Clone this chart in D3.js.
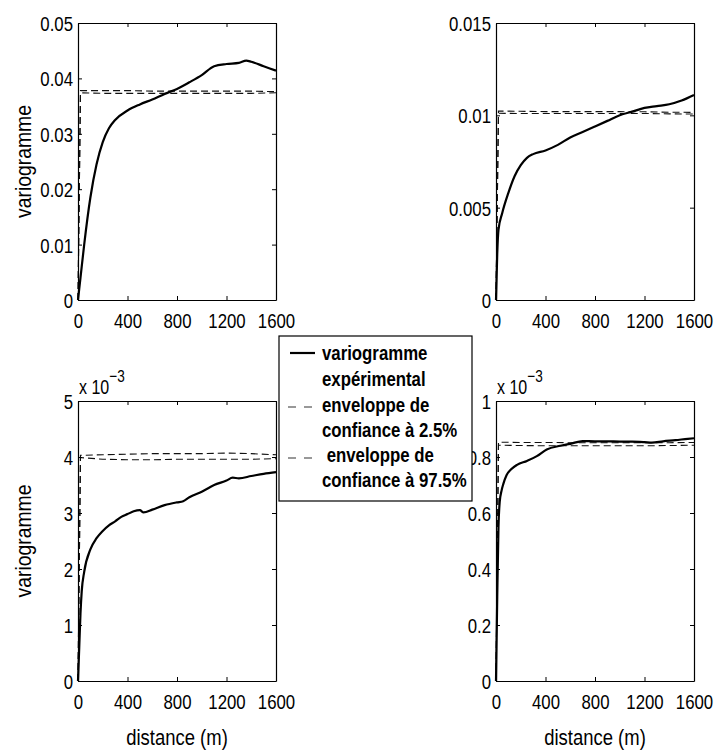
<!DOCTYPE html>
<html><head><meta charset="utf-8">
<script src="https://cdn.jsdelivr.net/npm/d3@7"></script>
<style>
body{margin:0;background:#fff}
svg{display:block}
text{font-family:"Liberation Sans",Arial,Helvetica,sans-serif;fill:#000}
</style>
</head><body>
<svg id="c" width="718" height="751"></svg>
<script>
// ---------- data ----------
const xTicks = [0, 400, 800, 1200, 1600];
const yTicks1 = [0, 0.01, 0.02, 0.03, 0.04, 0.05];
const yTicks2 = [0, 0.005, 0.01, 0.015];
const yTicks3 = [0, 1, 2, 3, 4, 5];          // x 10^-3
const yTicks4 = [0, 0.2, 0.4, 0.6, 0.8, 1];  // x 10^-3

// panel 1 (top-left)
const dist1  = [0, 20, 50, 100, 150, 200, 250, 300, 400, 500, 600, 700, 800, 900, 1000, 1100, 1200, 1300, 1360, 1400, 1500, 1600];
const vario1 = [0, 0.004, 0.0100, 0.0185, 0.0245, 0.0285, 0.0310, 0.0325, 0.0342, 0.0353, 0.0362, 0.0372, 0.0381, 0.0393, 0.0406, 0.0422, 0.0426, 0.0428, 0.0432, 0.0430, 0.0422, 0.0414];
// panel 2 (top-right)
const dist2  = [0, 10, 20, 50, 100, 150, 200, 250, 300, 400, 500, 600, 700, 800, 900, 1000, 1100, 1200, 1300, 1400, 1500, 1600];
const vario2 = [0, 0.0025, 0.0038, 0.0047, 0.0058, 0.0067, 0.0073, 0.0077, 0.0079, 0.0081, 0.0084, 0.0088, 0.0091, 0.0094, 0.0097, 0.0100, 0.0102, 0.0104, 0.0105, 0.0106, 0.0108, 0.0111];
// panel 3 (bottom-left), units of 10^-3
const dist3  = [0, 10, 20, 30, 50, 100, 150, 200, 250, 300, 350, 400, 450, 500, 530, 600, 700, 800, 850, 900, 1000, 1100, 1200, 1250, 1300, 1400, 1500, 1600];
const vario3 = [0, 0.6, 1.2, 1.6, 1.95, 2.35, 2.55, 2.68, 2.78, 2.85, 2.93, 2.98, 3.03, 3.05, 3.01, 3.06, 3.14, 3.19, 3.21, 3.28, 3.38, 3.50, 3.58, 3.63, 3.62, 3.66, 3.70, 3.73];
// panel 4 (bottom-right), units of 10^-3
const dist4  = [0, 10, 20, 30, 45, 60, 85, 120, 170, 250, 330, 410, 520, 600, 700, 800, 900, 1000, 1100, 1200, 1260, 1350, 1450, 1550, 1600];
const vario4 = [0, 0.30, 0.55, 0.64, 0.68, 0.705, 0.735, 0.755, 0.772, 0.786, 0.803, 0.827, 0.840, 0.847, 0.857, 0.856, 0.856, 0.855, 0.855, 0.853, 0.851, 0.856, 0.860, 0.865, 0.867];

// confidence envelopes
const envDist = [0, 20, 200, 400, 600, 800, 1000, 1200, 1400, 1600];
const envLow1  = [0, 0.0374, 0.0373, 0.0373, 0.0373, 0.0373, 0.0373, 0.0373, 0.0373, 0.0374];
const envHigh1 = [0, 0.0378, 0.0378, 0.0378, 0.0377, 0.0377, 0.0377, 0.0377, 0.0377, 0.0376];
const envLow2  = [0, 0.01011, 0.0101, 0.0101, 0.0101, 0.0101, 0.0101, 0.0101, 0.01008, 0.01007];
const envHigh2 = [0, 0.01023, 0.01022, 0.0102, 0.0102, 0.0102, 0.0102, 0.01019, 0.01017, 0.01016];
const envLow3  = [0, 3.99, 3.96, 3.95, 3.95, 3.96, 3.96, 3.96, 3.96, 3.97];
const envHigh3 = [0, 4.03, 4.04, 4.05, 4.06, 4.06, 4.06, 4.07, 4.06, 4.04];
const envLow4  = [0, 0.842, 0.841, 0.840, 0.840, 0.840, 0.840, 0.840, 0.841, 0.842];
const envHigh4 = [0, 0.853, 0.852, 0.852, 0.851, 0.851, 0.851, 0.851, 0.851, 0.852];

const yLabel = "variogramme";
const xLabel = "distance (m)";
const expLabel = "x 10";
const expSup = "\u22123";
const legendLines = ["variogramme", "expérimental", "enveloppe de", "confiance à 2.5%", " enveloppe de", "confiance à 97.5%"];

// ---------- drawing ----------
const svg = d3.select("#c");
const SX = 0.8; // horizontal condensing of text
const FS = 21;

function txt(g, x, y, s, anchor, size, weight, sx) {
  return g.append("text")
    .attr("transform", `translate(${x},${y}) scale(${sx || SX},1)`)
    .attr("text-anchor", anchor || "start")
    .style("font-size", (size || FS) + "px")
    .style("font-weight", weight || "normal")
    .style("white-space", "pre")
    .text(s);
}

const fmt = v => v === 0 ? "0" : String(+v.toFixed(4));

const panels = [
  {l: 78,  r: 276, t: 23,  b: 300, ymax: 0.05,  yt: yTicks1, d: dist1, v: vario1, lo: envLow1, hi: envHigh1, ylab: true,  xlab: false, exp: false},
  {l: 496, r: 694, t: 23,  b: 300, ymax: 0.015, yt: yTicks2, d: dist2, v: vario2, lo: envLow2, hi: envHigh2, ylab: false, xlab: false, exp: false},
  {l: 78,  r: 276, t: 401, b: 681, ymax: 5,     yt: yTicks3, d: dist3, v: vario3, lo: envLow3, hi: envHigh3, ylab: true,  xlab: true,  exp: true},
  {l: 496, r: 694, t: 401, b: 681, ymax: 1,     yt: yTicks4, d: dist4, v: vario4, lo: envLow4, hi: envHigh4, ylab: false, xlab: true,  exp: true}
];

panels.forEach(p => {
  const x = d3.scaleLinear().domain([0, 1600]).range([p.l, p.r]);
  const y = d3.scaleLinear().domain([0, p.ymax]).range([p.b, p.t]);
  const g = svg.append("g");

  const line = d3.line().x(d => x(d[0])).y(d => y(d[1])).curve(d3.curveMonotoneX);
  const lineLin = d3.line().x(d => x(d[0])).y(d => y(d[1]));

  // envelopes
  [p.lo, p.hi].forEach(arr => {
    g.append("path")
      .datum(envDist.map((dd, i) => [dd, arr[i]]))
      .attr("d", lineLin)
      .attr("fill", "none")
      .attr("stroke", "#111")
      .attr("stroke-width", 1.1)
      .attr("stroke-dasharray", "7,4");
  });
  // experimental variogram
  g.append("path")
    .datum(p.d.map((dd, i) => [dd, p.v[i]]))
    .attr("d", line)
    .attr("fill", "none")
    .attr("stroke", "#000")
    .attr("stroke-width", 2.2)
    .attr("stroke-linejoin", "round");

  // axes (box with inward ticks)
  const axStyle = sel => {
    sel.selectAll("path.domain").attr("stroke", "#000").attr("stroke-width", 1.2);
    sel.selectAll(".tick line").attr("stroke", "#000").attr("stroke-width", 1);
  };
  const gb = g.append("g").attr("transform", `translate(0,${p.b})`)
    .call(d3.axisBottom(x).tickValues(xTicks).tickFormat(d3.format("d")).tickSizeInner(-4).tickSizeOuter(0));
  const gl = g.append("g").attr("transform", `translate(${p.l},0)`)
    .call(d3.axisLeft(y).tickValues(p.yt).tickFormat(fmt).tickSizeInner(-4).tickSizeOuter(0));
  const gt = g.append("g").attr("transform", `translate(0,${p.t})`)
    .call(d3.axisTop(x).tickValues(xTicks).tickFormat("").tickSizeInner(-4).tickSizeOuter(0));
  const gr = g.append("g").attr("transform", `translate(${p.r},0)`)
    .call(d3.axisRight(y).tickValues(p.yt).tickFormat("").tickSizeInner(-4).tickSizeOuter(0));
  [gb, gl, gt, gr].forEach(axStyle);
  [gb, gl, gt, gr].forEach(a => a.attr("font-family", null).attr("font-size", null));

  gb.selectAll(".tick text")
    .attr("y", null).attr("dy", null).attr("x", null)
    .attr("transform", `translate(0,28) scale(${SX},1)`)
    .attr("text-anchor", "middle")
    .style("font-size", FS + "px")
    .attr("fill", "#000");
  gl.selectAll(".tick text")
    .attr("y", null).attr("dy", null).attr("x", null)
    .attr("transform", `translate(-5,7.5) scale(${SX},1)`)
    .attr("text-anchor", "end")
    .style("font-size", FS + "px")
    .attr("fill", "#000");

  if (p.ylab) {
    g.append("text")
      .attr("transform", `translate(31,${(p.t + p.b) / 2}) rotate(-90) scale(0.88,1)`)
      .attr("text-anchor", "middle")
      .style("font-size", "22px")
      .text(yLabel);
  }
  if (p.xlab) {
    txt(g, (p.l + p.r) / 2, 745, xLabel, "middle", 22, "normal", 0.84);
  }
  if (p.exp) {
    const t = g.append("text")
      .attr("transform", `translate(${p.l + 1},${p.t - 7}) scale(${SX},1)`)
      .style("font-size", "20px");
    t.append("tspan").text(expLabel);
    t.append("tspan").attr("dy", -12).style("font-size", "17px").text(expSup);
  }
});

// ---------- legend ----------
const lg = svg.append("g");
lg.append("rect").attr("x", 279).attr("y", 336).attr("width", 193).attr("height", 165)
  .attr("fill", "#fff").attr("stroke", "#000").attr("stroke-width", 1.2);
lg.append("line").attr("x1", 290).attr("x2", 315).attr("y1", 353).attr("y2", 353)
  .attr("stroke", "#000").attr("stroke-width", 2.2);
[407, 458].forEach(yy => {
  lg.append("line").attr("x1", 288).attr("x2", 312).attr("y1", yy).attr("y2", yy)
    .attr("stroke", "#333").attr("stroke-width", 1.1).attr("stroke-dasharray", "8,8");
});
const rowY = [360, 386, 412, 437, 462, 487];
legendLines.forEach((s, i) => txt(lg, 322, rowY[i], s, "start", 21, "bold"));
</script>
</body></html>
